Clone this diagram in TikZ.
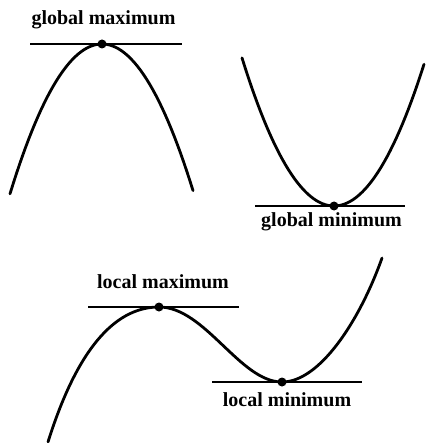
\documentclass[tikz,border=0pt]{standalone}
\usepackage{fontspec}
\setmainfont{Liberation Serif}
\usepackage{tikz}
\usetikzlibrary{positioning}

\begin{document}
\begin{tikzpicture}[
    x=1pt, y=-1pt,
    font=\fontsize{20}{22}\selectfont\bfseries,
    curve/.style={line width=2.8pt, line cap=round},
    tangent/.style={line width=2.4pt},
    extremum/.style={circle, fill=black, inner sep=0pt, minimum size=9pt},
    label/.style={anchor=base, inner sep=0pt}
]
\useasboundingbox (0,0) rectangle (425,443);

% global maximum
\coordinate (gmax) at (102,44);
\draw[curve] plot[domain=10:193, samples=60] (\x, {44+0.0177*(\x-102)^2});
\draw[tangent] (30,44) -- (182,44);
\node[extremum] (gmaxdot) at (gmax) {};
\node[label] (gmaxlabel) at (103.5,25) {global maximum};

% global minimum
\coordinate (gmin) at (334,206);
\draw[curve] plot[domain=242:424, samples=60] (\x, {206-0.0175*(\x-334)^2});
\draw[tangent] (255,206) -- (405,206);
\node[extremum] (gmindot) at (gmin) {};
\node[label] (gminlabel) at (331.5,226) {global minimum};

% local maximum and minimum
\coordinate (lmax) at (159,307);
\coordinate (lmin) at (282,382);
\draw[curve] (48,442) .. controls (80,340) and (120,307) .. (lmax)
    .. controls (205,307) and (240,382) .. (lmin)
    .. controls (320,382) and (360,320) .. (382,258);
\draw[tangent] (88,307) -- (239,307);
\draw[tangent] (212,382) -- (362,382);
\node[extremum] (lmaxdot) at (lmax) {};
\node[extremum] (lmindot) at (lmin) {};
\node[label] (lmaxlabel) at (163,288) {local maximum};
\node[label] (lminlabel) at (287,406) {local minimum};

\end{tikzpicture}
\end{document}
